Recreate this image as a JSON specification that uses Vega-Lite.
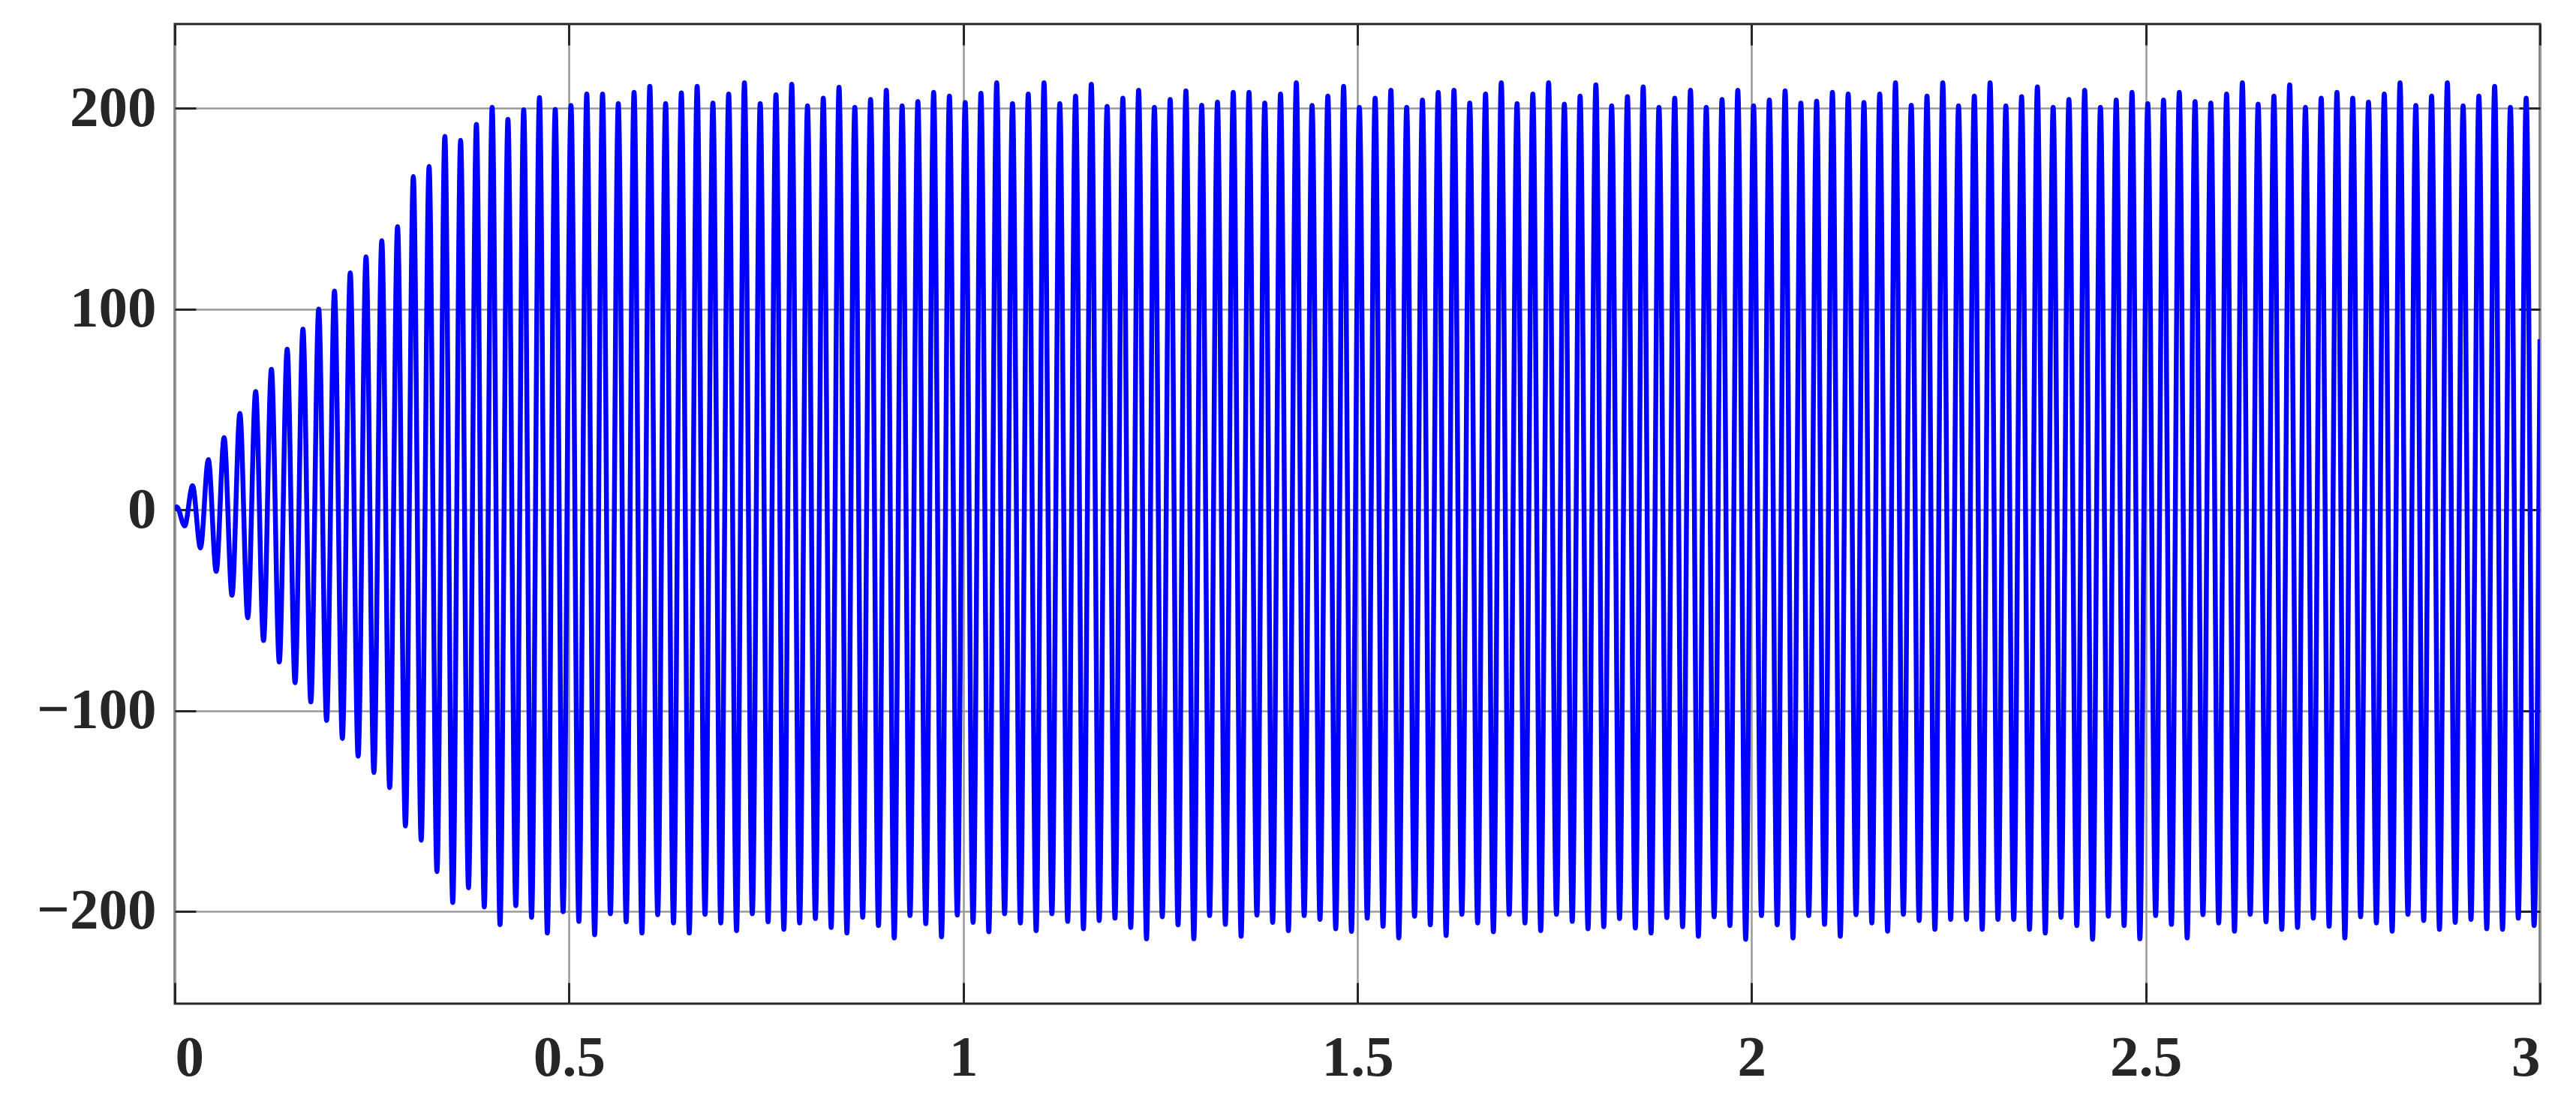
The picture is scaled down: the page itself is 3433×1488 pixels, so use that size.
{
"$schema": "https://vega.github.io/schema/vega-lite/v6.json",
"width": 3152, "height": 1305, "autosize": "none",
"padding": {"left": 233, "top": 32, "right": 48, "bottom": 151},
"background": "#ffffff",
"config": {"view": {"stroke": "#262626", "strokeWidth": 3},
  "axis": {"labelFont": "Liberation Serif", "labelFontWeight": "bold", "labelFontSize": 77, "labelColor": "#262626", "domain": false, "tickColor": "#262626", "tickWidth": 3, "gridColor": "#9a9a9a", "gridWidth": 2.5, "title": null, "zindex": 1}},
"data": {"values": [
{"t":0,"v":0},{"t":0.0025,"v":1.5},{"t":0.0125,"v":-8},{"t":0.0225,"v":12},{"t":0.0325,"v":-19},{"t":0.0425,"v":25},{"t":0.0525,"v":-30.7},{"t":0.0625,"v":36},{"t":0.0725,"v":-42.6},{"t":0.0825,"v":48},{"t":0.0925,"v":-53.8},{"t":0.1025,"v":59},{"t":0.1125,"v":-65.1},{"t":0.1225,"v":70},{"t":0.1325,"v":-75.8},{"t":0.1425,"v":80},{"t":0.1525,"v":-86.1},{"t":0.1625,"v":90},{"t":0.1725,"v":-95.7},{"t":0.1825,"v":100},{"t":0.1925,"v":-104.9},{"t":0.2025,"v":109},{"t":0.2125,"v":-113.9},{"t":0.2225,"v":118},{"t":0.2325,"v":-122.7},{"t":0.2425,"v":126},{"t":0.2525,"v":-130.8},{"t":0.2625,"v":134},{"t":0.2725,"v":-138.4},{"t":0.2825,"v":141},{"t":0.2925,"v":-157.5},{"t":0.3025,"v":166},{"t":0.3125,"v":-164.6},{"t":0.3225,"v":171},{"t":0.3325,"v":-180.2},{"t":0.3425,"v":186},{"t":0.3525,"v":-195.6},{"t":0.3625,"v":184},{"t":0.3725,"v":-188.3},{"t":0.3825,"v":192},{"t":0.3925,"v":-197.8},
{"t":0.4025,"v":200.5},{"t":0.4125,"v":-206.6},{"t":0.4225,"v":194.5},{"t":0.4325,"v":-197.2},{"t":0.4425,"v":199.3},{"t":0.4525,"v":-203},{"t":0.4625,"v":205.4},{"t":0.4725,"v":-210.8},{"t":0.4825,"v":199.5},{"t":0.4925,"v":-200.2},
{"t":0.5025,"v":201.4},{"t":0.5125,"v":-205},{"t":0.5225,"v":207.1},{"t":0.5325,"v":-211.7},{"t":0.5425,"v":207.1},{"t":0.5525,"v":-201.2},{"t":0.5625,"v":202.4},{"t":0.5725,"v":-205.2},{"t":0.5825,"v":208},{"t":0.5925,"v":-210.8},
{"t":0.6025,"v":211},{"t":0.6125,"v":-201.7},{"t":0.6225,"v":202.4},{"t":0.6325,"v":-205.8},{"t":0.6425,"v":207.7},{"t":0.6525,"v":-210.8},{"t":0.6625,"v":211},{"t":0.6725,"v":-201.5},{"t":0.6825,"v":202.6},{"t":0.6925,"v":-205.8},
{"t":0.7025,"v":207.1},{"t":0.7125,"v":-209.6},{"t":0.7225,"v":212.7},{"t":0.7325,"v":-201.2},{"t":0.7425,"v":202.4},{"t":0.7525,"v":-205.2},{"t":0.7625,"v":206.8},{"t":0.7725,"v":-209},{"t":0.7825,"v":212},{"t":0.7925,"v":-205.8},
{"t":0.8025,"v":201.2},{"t":0.8125,"v":-203.6},{"t":0.8225,"v":205.1},{"t":0.8325,"v":-208},{"t":0.8425,"v":210.5},{"t":0.8525,"v":-210.8},{"t":0.8625,"v":200.5},{"t":0.8725,"v":-203},{"t":0.8825,"v":204.4},{"t":0.8925,"v":-207.1},
{"t":0.9025,"v":209},{"t":0.9125,"v":-213.3},{"t":0.9225,"v":201.2},{"t":0.9325,"v":-202.1},{"t":0.9425,"v":203.4},{"t":0.9525,"v":-206.2},{"t":0.9625,"v":208},{"t":0.9725,"v":-212.7},{"t":0.9825,"v":206.1},{"t":0.9925,"v":-201.9},
{"t":1.0025,"v":202.9},{"t":1.0125,"v":-205.5},{"t":1.0225,"v":207.5},{"t":1.0325,"v":-210.2},{"t":1.0425,"v":212.7},{"t":1.0525,"v":-201.2},{"t":1.0625,"v":202.4},{"t":1.0725,"v":-205.8},{"t":1.0825,"v":207.1},{"t":1.0925,"v":-209.6},
{"t":1.1025,"v":212.7},{"t":1.1125,"v":-201.2},{"t":1.1225,"v":202.4},{"t":1.1325,"v":-205},{"t":1.1425,"v":206.1},{"t":1.1525,"v":-208.7},{"t":1.1625,"v":212},{"t":1.1725,"v":-204.6},{"t":1.1825,"v":201},{"t":1.1925,"v":-203.4},
{"t":1.2025,"v":205.1},{"t":1.2125,"v":-208},{"t":1.2225,"v":209},{"t":1.2325,"v":-213.7},{"t":1.2425,"v":200.5},{"t":1.2525,"v":-202.7},{"t":1.2625,"v":204.4},{"t":1.2725,"v":-206.7},{"t":1.2825,"v":208.7},{"t":1.2925,"v":-213.7},
{"t":1.3025,"v":201.5},{"t":1.3125,"v":-202.1},{"t":1.3225,"v":203.1},{"t":1.3325,"v":-206.5},{"t":1.3425,"v":208},{"t":1.3525,"v":-212.4},{"t":1.3625,"v":208},{"t":1.3725,"v":-201.9},{"t":1.3825,"v":202.6},{"t":1.3925,"v":-205.5},
{"t":1.4025,"v":207.1},{"t":1.4125,"v":-209.6},{"t":1.4225,"v":212.7},{"t":1.4325,"v":-202.1},{"t":1.4425,"v":201.4},{"t":1.4525,"v":-204},{"t":1.4625,"v":206.1},{"t":1.4725,"v":-208.7},{"t":1.4825,"v":211},{"t":1.4925,"v":-210},
{"t":1.5025,"v":200.5},{"t":1.5125,"v":-203.4},{"t":1.5225,"v":205.1},{"t":1.5325,"v":-207.5},{"t":1.5425,"v":209},{"t":1.5525,"v":-213.3},{"t":1.5625,"v":200.5},{"t":1.5725,"v":-202.4},{"t":1.5825,"v":204.1},{"t":1.5925,"v":-206.7},
{"t":1.6025,"v":208},{"t":1.6125,"v":-212.1},{"t":1.6225,"v":209},{"t":1.6325,"v":-201.5},{"t":1.6425,"v":202.6},{"t":1.6525,"v":-205.8},{"t":1.6625,"v":207.1},{"t":1.6725,"v":-210.2},{"t":1.6825,"v":212.7},{"t":1.6925,"v":-201.5},
{"t":1.7025,"v":202.4},{"t":1.7125,"v":-205.8},{"t":1.7225,"v":207.1},{"t":1.7325,"v":-209.6},{"t":1.7425,"v":212.7},{"t":1.7525,"v":-201.5},{"t":1.7625,"v":202.1},{"t":1.7725,"v":-205},{"t":1.7825,"v":206.1},{"t":1.7925,"v":-208.7},
{"t":1.8025,"v":211.7},{"t":1.8125,"v":-207.7},{"t":1.8225,"v":201.2},{"t":1.8325,"v":-203.6},{"t":1.8425,"v":205.8},{"t":1.8525,"v":-208.3},{"t":1.8625,"v":210.7},{"t":1.8725,"v":-210.8},{"t":1.8825,"v":200.5},{"t":1.8925,"v":-203.2},
{"t":1.9025,"v":205.1},{"t":1.9125,"v":-207.7},{"t":1.9225,"v":209},{"t":1.9325,"v":-212.4},{"t":1.9425,"v":200.5},{"t":1.9525,"v":-202.7},{"t":1.9625,"v":204.4},{"t":1.9725,"v":-207.1},{"t":1.9825,"v":209},{"t":1.9925,"v":-213.9},
{"t":2.0025,"v":201.2},{"t":2.0125,"v":-202.1},{"t":2.0225,"v":204.1},{"t":2.0325,"v":-206.7},{"t":2.0425,"v":208.7},{"t":2.0525,"v":-213.3},{"t":2.0625,"v":202.6},{"t":2.0725,"v":-202.1},{"t":2.0825,"v":203.6},{"t":2.0925,"v":-206.5},
{"t":2.1025,"v":208},{"t":2.1125,"v":-212.4},{"t":2.1225,"v":207.1},{"t":2.1325,"v":-201.7},{"t":2.1425,"v":202.9},{"t":2.1525,"v":-205.8},{"t":2.1625,"v":207.1},{"t":2.1725,"v":-209.9},{"t":2.1825,"v":212.7},{"t":2.1925,"v":-201.5},
{"t":2.2025,"v":201.5},{"t":2.2125,"v":-204.6},{"t":2.2225,"v":206.1},{"t":2.2325,"v":-209},{"t":2.2425,"v":212.7},{"t":2.2525,"v":-204},{"t":2.2625,"v":201.2},{"t":2.2725,"v":-204},{"t":2.2825,"v":206.1},{"t":2.2925,"v":-209},
{"t":2.3025,"v":212.7},{"t":2.3125,"v":-204},{"t":2.3225,"v":201.2},{"t":2.3325,"v":-204},{"t":2.3425,"v":205.8},{"t":2.3525,"v":-209},{"t":2.3625,"v":210.7},{"t":2.3725,"v":-210.8},{"t":2.3825,"v":200.5},{"t":2.3925,"v":-203},
{"t":2.4025,"v":204.4},{"t":2.4125,"v":-207.1},{"t":2.4225,"v":209},{"t":2.4325,"v":-213.9},{"t":2.4425,"v":200.5},{"t":2.4525,"v":-202.4},{"t":2.4625,"v":204.1},{"t":2.4725,"v":-207.1},{"t":2.4825,"v":208},{"t":2.4925,"v":-213.7},
{"t":2.5025,"v":202.4},{"t":2.5125,"v":-202.1},{"t":2.5225,"v":204.1},{"t":2.5325,"v":-206.5},{"t":2.5425,"v":208},{"t":2.5525,"v":-213.3},{"t":2.5625,"v":203.4},{"t":2.5725,"v":-201.7},{"t":2.5825,"v":202.6},{"t":2.5925,"v":-205.8},
{"t":2.6025,"v":207.1},{"t":2.6125,"v":-209.9},{"t":2.6225,"v":212.7},{"t":2.6325,"v":-201.5},{"t":2.6425,"v":202.1},{"t":2.6525,"v":-205.2},{"t":2.6625,"v":206.1},{"t":2.6725,"v":-209},{"t":2.6825,"v":211.7},{"t":2.6925,"v":-208},
{"t":2.7025,"v":200.5},{"t":2.7125,"v":-203.4},{"t":2.7225,"v":205.1},{"t":2.7325,"v":-207.5},{"t":2.7425,"v":208},{"t":2.7525,"v":-213.3},{"t":2.7625,"v":205.1},{"t":2.7725,"v":-202.7},{"t":2.7825,"v":203.1},{"t":2.7925,"v":-205.8},
{"t":2.8025,"v":207.1},{"t":2.8125,"v":-209.9},{"t":2.8225,"v":212.7},{"t":2.8325,"v":-201.5},{"t":2.8425,"v":201.4},{"t":2.8525,"v":-204.6},{"t":2.8625,"v":206.1},{"t":2.8725,"v":-209},{"t":2.8825,"v":212.7},{"t":2.8925,"v":-205.5},
{"t":2.9025,"v":201.2},{"t":2.9125,"v":-204},{"t":2.9225,"v":206.1},{"t":2.9325,"v":-208.7},{"t":2.9425,"v":211},{"t":2.9525,"v":-209},{"t":2.9625,"v":200.5},{"t":2.9725,"v":-203.4},{"t":2.9825,"v":205.1},{"t":2.9925,"v":-207.1},
{"t":3,"v":85}
]},
"layer": [
 {"mark": {"type": "line", "color": "#0000ff", "strokeWidth": 6.5, "interpolate": "monotone", "clip": true},
  "encoding": {
   "x": {"field": "t", "type": "quantitative", "scale": {"domain": [0, 3], "nice": false, "zero": false},
         "axis": {"orient": "bottom", "values": [0, 0.5, 1, 1.5, 2, 2.5, 3], "format": "~g", "grid": true, "tickSize": -28, "labelPadding": 62}},
   "y": {"field": "v", "type": "quantitative", "scale": {"domain": [-246, 242], "nice": false, "zero": false},
         "axis": {"orient": "left", "values": [-200, -100, 0, 100, 200], "grid": true, "tickSize": -28, "labelPadding": 53}}
  }},
 {"mark": {"type": "line", "opacity": 0},
  "encoding": {
   "x": {"field": "t", "type": "quantitative", "scale": {"domain": [0, 3], "nice": false, "zero": false},
         "axis": {"orient": "top", "values": [0, 0.5, 1, 1.5, 2, 2.5, 3], "labels": false, "grid": false, "tickSize": -28}},
   "y": {"field": "v", "type": "quantitative", "scale": {"domain": [-246, 242], "nice": false, "zero": false},
         "axis": {"orient": "right", "values": [-200, -100, 0, 100, 200], "labels": false, "grid": false, "tickSize": -28}}
  }}
],
"resolve": {"axis": {"x": "independent", "y": "independent"}}
}
